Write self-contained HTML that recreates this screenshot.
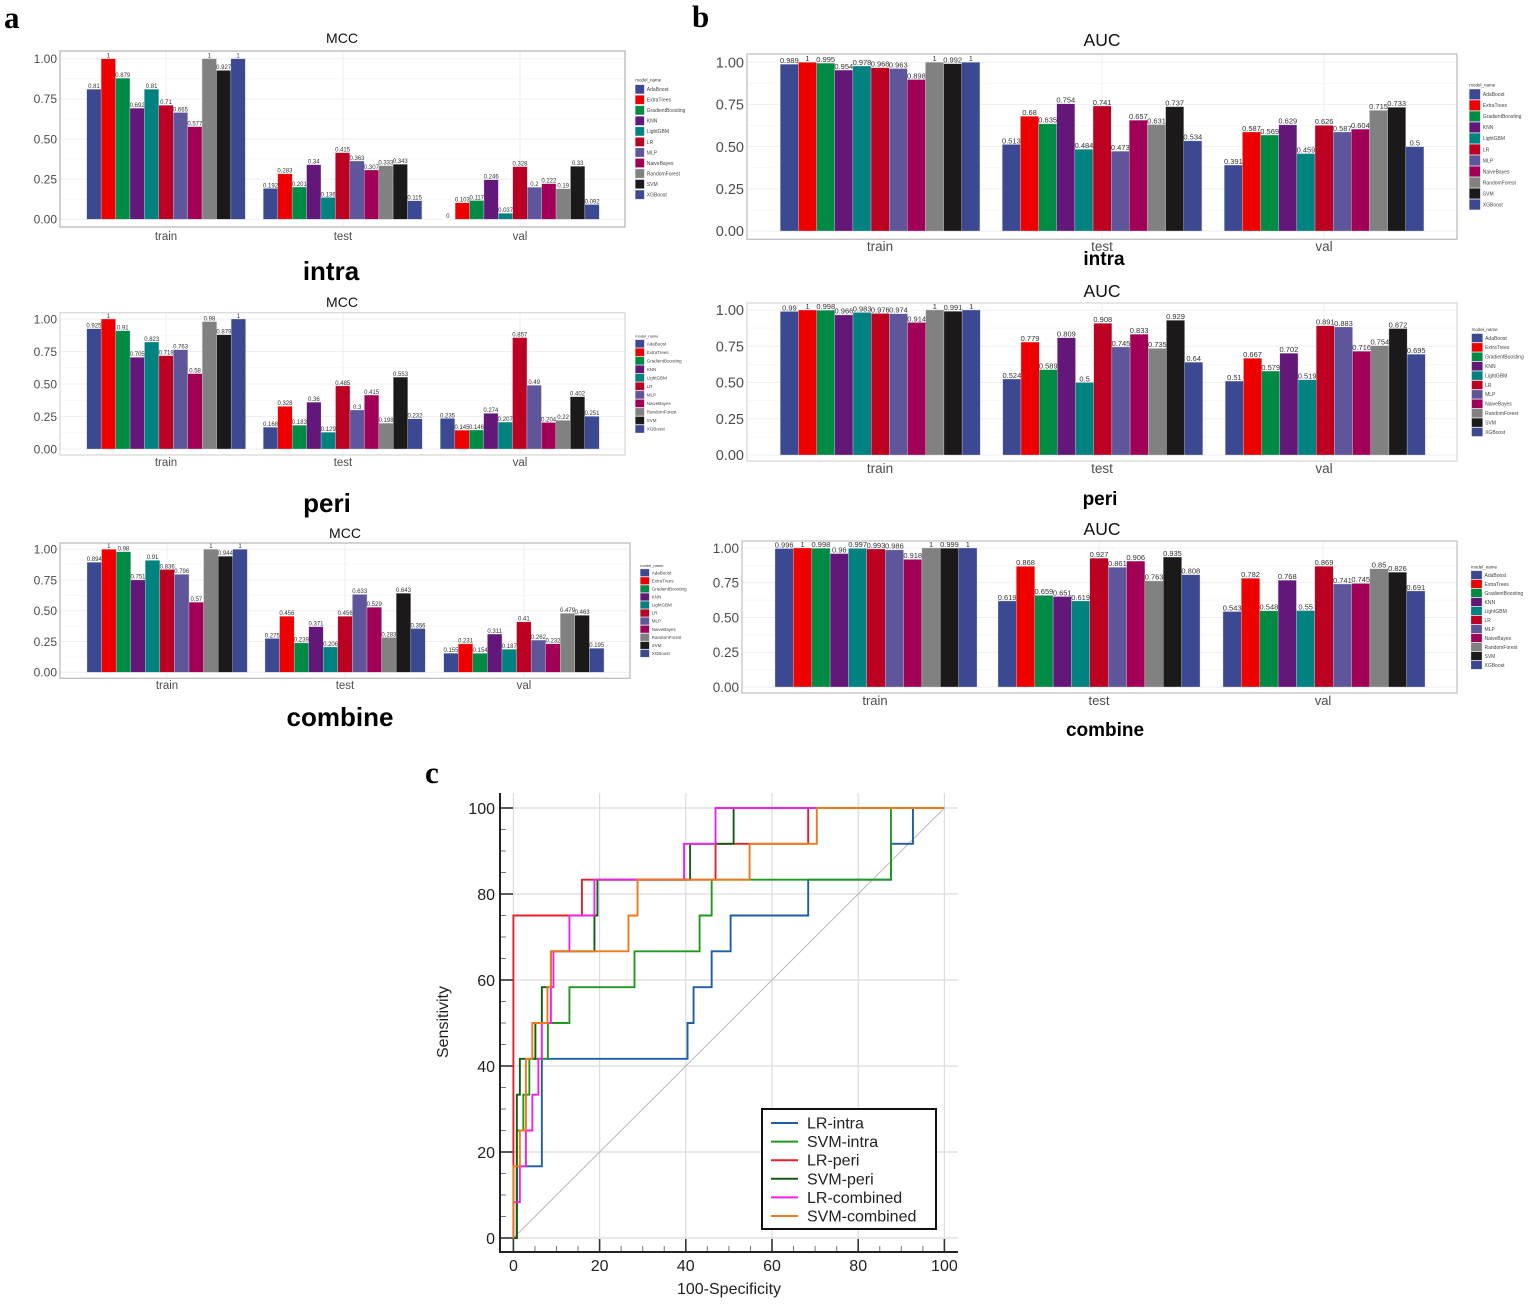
<!DOCTYPE html>
<html lang="en">
<head>
<meta charset="utf-8">
<title>Model performance comparison</title>
<style>
html,body{margin:0;padding:0;background:#fff;}
body{width:1535px;height:1304px;overflow:hidden;position:relative;}
svg{position:absolute;left:0;top:0;font-family:"Liberation Sans",sans-serif;}
.panel-letter{font-family:"Liberation Serif",serif;font-weight:bold;font-size:31px;fill:#000;}
.caption{font-family:"Liberation Sans",sans-serif;font-weight:bold;fill:#000;text-anchor:middle;}
#bars-root{filter:blur(0.35px);}
</style>
</head>
<body>
<svg id="figure" xmlns="http://www.w3.org/2000/svg" width="1535" height="1304" viewBox="0 0 1535 1304">
  <text class="panel-letter" x="4" y="28">a</text>
  <text class="panel-letter" x="692" y="27">b</text>
  <text class="panel-letter" x="425" y="783">c</text>
  <text class="caption" x="331" y="280" font-size="26">intra</text>
  <text class="caption" x="327" y="512" font-size="26">peri</text>
  <text class="caption" x="340" y="726" font-size="26">combine</text>
  <text class="caption" x="1104" y="265" font-size="19">intra</text>
  <text class="caption" x="1100" y="505" font-size="19">peri</text>
  <text class="caption" x="1105" y="736" font-size="19">combine</text>
  <g id="bars-root"></g>
  <g id="roc-root"></g>
</svg>
<script>
/* ---------- bar chart data ---------- */
const models = ["AdaBoost","ExtraTrees","GradientBoosting","KNN","LightGBM","LR","MLP","NaiveBayes","RandomForest","SVM","XGBoost"];
const splits = ["train","test","val"];
const yTicks = [0,0.25,0.5,0.75,1];
const yTickLabels = ["0.00","0.25","0.50","0.75","1.00"];

const mccIntraTrain = [0.81,1,0.879,0.692,0.81,0.71,0.665,0.577,1,0.927,1];
const mccIntraTest  = [0.192,0.283,0.201,0.34,0.136,0.415,0.363,0.307,0.333,0.343,0.115];
const mccIntraVal   = [0,0.103,0.117,0.246,0.037,0.328,0.2,0.222,0.19,0.33,0.092];

const mccPeriTrain = [0.925,1,0.91,0.705,0.823,0.718,0.763,0.58,0.98,0.879,1];
const mccPeriTest  = [0.168,0.328,0.183,0.36,0.129,0.485,0.3,0.415,0.198,0.553,0.232];
const mccPeriVal   = [0.235,0.145,0.146,0.274,0.207,0.857,0.49,0.204,0.22,0.402,0.251];

const mccCombineTrain = [0.894,1,0.98,0.751,0.91,0.836,0.796,0.57,1,0.944,1];
const mccCombineTest  = [0.275,0.456,0.239,0.371,0.206,0.456,0.633,0.529,0.283,0.643,0.356];
const mccCombineVal   = [0.155,0.231,0.154,0.311,0.187,0.41,0.262,0.232,0.479,0.463,0.195];

const aucIntraTrain = [0.989,1,0.995,0.954,0.978,0.968,0.963,0.898,1,0.992,1];
const aucIntraTest  = [0.513,0.68,0.635,0.754,0.484,0.741,0.473,0.657,0.631,0.737,0.534];
const aucIntraVal   = [0.391,0.587,0.569,0.629,0.459,0.626,0.587,0.604,0.715,0.733,0.5];

const aucPeriTrain = [0.99,1,0.998,0.966,0.983,0.976,0.974,0.914,1,0.991,1];
const aucPeriTest  = [0.524,0.779,0.589,0.809,0.5,0.908,0.745,0.833,0.735,0.929,0.64];
const aucPeriVal   = [0.51,0.667,0.579,0.702,0.519,0.891,0.883,0.716,0.754,0.872,0.695];

const aucCombineTrain = [0.996,1,0.998,0.96,0.997,0.993,0.986,0.918,1,0.999,1];
const aucCombineTest  = [0.619,0.868,0.659,0.651,0.619,0.927,0.861,0.906,0.763,0.935,0.808];
const aucCombineVal   = [0.543,0.782,0.548,0.768,0.55,0.869,0.741,0.745,0.85,0.826,0.691];

/* ---------- ROC data (100-specificity at which each step rises, sensitivity after the step) ---------- */
const rocXTicks = [0,20,40,60,80,100];
const rocYTicks = [0,20,40,60,80,100];
const lrIntraFpr  = [0.8,6.6,40.4,41.8,46,50.4,68.4,87.6,92.7];
const lrIntraSens = [16.67,41.67,50,58.33,66.67,75,83.33,91.67,100];
const svmIntraFpr  = [0.8,2.3,3.7,8,13,28.1,43.2,46,87.6];
const svmIntraSens = [25,33.33,41.67,50,58.33,66.67,75,83.33,100];
const lrPeriFpr  = [0,15.9,46.9,68.4];
const lrPeriSens = [75,83.33,91.67,100];
const svmPeriFpr  = [0.8,1.5,5.1,6.6,8.7,18.8,19.5,41,51.1];
const svmPeriSens = [33.33,41.67,50,58.33,66.67,75,83.33,91.67,100];
const lrCombinedFpr  = [0,1.5,2.9,4.4,5.8,6.6,8.7,9.3,13,18.8,39.6,46.9];
const lrCombinedSens = [8.33,16.67,25,33.33,41.67,50,58.33,66.67,75,83.33,91.67,100];
const svmCombinedFpr  = [0,1.5,2.9,4.4,7.9,8.7,26.7,28.8,54.8,70.4];
const svmCombinedSens = [16.67,25,41.67,50,58.33,66.67,75,83.33,91.67,100];

/* ---------- styling and layout ---------- */
const modelColors = ["#3b4992","#ee0000","#008b45","#631879","#008280","#bb0021","#5f559b","#a20056","#808180","#1b1919","#3b4992"];
const NS = "http://www.w3.org/2000/svg";

function node(parent, tag, attrs, text) {
  const el = document.createElementNS(NS, tag);
  for (const k in attrs) el.setAttribute(k, attrs[k]);
  if (text !== undefined) el.textContent = text;
  parent.appendChild(el);
  return el;
}

const barPanels = [
  {id:"mcc-intra", title:"MCC", titleX:342, titleY:43, titleSize:14, frame:[60,51,625,227], y1:58.7, y0:219.3,
   groupLeft:[86.7,263.3,440.7], groupWidth:158.6, groupCenter:[166,343,520], data:[mccIntraTrain,mccIntraTest,mccIntraVal],
   tickSize:12, splitSize:11.5, splitY:240, valueSize:6, frameColor:"#bdbdbd",
   legendX:635.3, legendSw:9, legendTop:89.3, legendStep:10.53, legendFont:5},
  {id:"mcc-peri", title:"MCC", titleX:342, titleY:307, titleSize:14, frame:[60,312.7,625,455], y1:319, y0:449,
   groupLeft:[86.7,263.3,440.3], groupWidth:158.9, groupCenter:[166,343,520], data:[mccPeriTrain,mccPeriTest,mccPeriVal],
   tickSize:12, splitSize:11.5, splitY:466, valueSize:6, frameColor:"#dcdcdc",
   legendX:635.3, legendSw:9, legendTop:343.7, legendStep:8.53, legendFont:4.5},
  {id:"mcc-combine", title:"MCC", titleX:345, titleY:538, titleSize:14, frame:[60,543,630,678.3], y1:549.3, y0:672.3,
   groupLeft:[87,265,443.7], groupWidth:160.3, groupCenter:[167,345,524], data:[mccCombineTrain,mccCombineTest,mccCombineVal],
   tickSize:12, splitSize:11.5, splitY:689, valueSize:6, frameColor:"#c0c0c0",
   legendX:640.3, legendSw:9, legendTop:572.7, legendStep:8.07, legendFont:4.5},
  {id:"auc-intra", title:"AUC", titleX:1102, titleY:46, titleSize:17.5, frame:[747,54,1457,239.3], y1:62.3, y0:231,
   groupLeft:[780.3,1002.3,1224.3], groupWidth:199.6, groupCenter:[880,1102,1324], data:[aucIntraTrain,aucIntraTest,aucIntraVal],
   tickSize:14.5, splitSize:13.5, splitY:251, valueSize:7.5, frameColor:"#c4c4c4",
   legendX:1469.3, legendSw:11, legendTop:94.3, legendStep:11.03, legendFont:5},
  {id:"auc-peri", title:"AUC", titleX:1102, titleY:297, titleSize:17.5, frame:[747,303,1457,461], y1:310, y0:455,
   groupLeft:[780.3,1002.8,1225.3], groupWidth:200, groupCenter:[880,1102,1324], data:[aucPeriTrain,aucPeriTest,aucPeriVal],
   tickSize:14.5, splitSize:13.5, splitY:473, valueSize:7.5, frameColor:"#dcdcdc",
   legendX:1471.6, legendSw:11, legendTop:338, legendStep:9.4, legendFont:5},
  {id:"auc-combine", title:"AUC", titleX:1102, titleY:535, titleSize:17.5, frame:[742,541,1457,693], y1:548, y0:687,
   groupLeft:[775,998,1223], groupWidth:202, groupCenter:[875,1099,1323], data:[aucCombineTrain,aucCombineTest,aucCombineVal],
   tickSize:13.5, splitSize:13, splitY:705, valueSize:7.5, frameColor:"#c8c8c8",
   legendX:1471, legendSw:11, legendTop:575, legendStep:9, legendFont:5}
];

function drawBarPanel(p) {
  const root = document.getElementById("bars-root");
  const g = node(root, "g", {});
  
  

  const yScale = v => p.y0 + (p.y1 - p.y0) * v;
  const xScale = (groupIdx, modelIdx) => p.groupLeft[groupIdx] + p.groupWidth * modelIdx / models.length;
  const [fl, ft, fr, fb] = p.frame;

  const title = node(g, "text", {x:p.titleX, y:p.titleY, "text-anchor":"middle", "font-size":p.titleSize, fill:"#111"}, p.title);
  
  

  for (let i = 0; i < yTicks.length; i++) {
    const gy = yScale(yTicks[i]);
    const grid = node(g, "line", {x1:fl, x2:fr, y1:gy, y2:gy, stroke:"#efefef", "stroke-width":1});
    
    
    if (i < yTicks.length - 1) {
      const my = yScale((yTicks[i] + yTicks[i + 1]) / 2);
      const minor = node(g, "line", {x1:fl, x2:fr, y1:my, y2:my, stroke:"#f5f5f5", "stroke-width":0.7});
      
      
    }
    const tick = node(g, "text", {x:fl - 3, y:gy + p.tickSize * 0.36, "text-anchor":"end", "font-size":p.tickSize, fill:"#4d4d4d"}, yTickLabels[i]);
    
    
  }

  splits.forEach((s, si) => {
    const cx = p.groupCenter[si];
    const vg = node(g, "line", {x1:cx, x2:cx, y1:ft, y2:fb, stroke:"#efefef", "stroke-width":1});
    
    
    const lab = node(g, "text", {x:cx, y:p.splitY, "text-anchor":"middle", "font-size":p.splitSize, fill:"#4d4d4d"}, s);
    
    
  });

  const frame = node(g, "rect", {x:fl, y:ft, width:fr - fl, height:fb - ft, fill:"none", stroke:p.frameColor, "stroke-width":1.4});
  
  

  p.data.forEach((series, si) => {
    series.forEach((v, mi) => {
      const bx = xScale(si, mi);
      const bw = p.groupWidth / models.length;
      const top = yScale(v);
      if (v > 0) {
        const bar = node(g, "rect", {x:bx, y:top, width:bw, height:p.y0 - top, fill:modelColors[mi], stroke:"#d8d8e4", "stroke-width":0.35});
        
        
      }
      const label = node(g, "text", {x:bx + bw / 2, y:top - 1.2, "text-anchor":"middle", "font-size":p.valueSize, fill:"#333"}, String(v));
      
      
    });
  });

  const legend = node(g, "g", {});
  
  
  const lt = node(legend, "text", {x:p.legendX, y:p.legendTop - p.legendStep * 0.72, "font-size":p.legendFont - 0.5, fill:"#333"}, "model_name");
  
  
  models.forEach((m, i) => {
    const cy = p.legendTop + p.legendStep * i;
    const sh = Math.min(p.legendSw, p.legendStep - 0.6);
    const sw = node(legend, "rect", {x:p.legendX, y:cy - sh / 2, width:p.legendSw, height:sh, fill:modelColors[i], stroke:"#d8d8e4", "stroke-width":0.3});
    
    
    const tx = node(legend, "text", {x:p.legendX + p.legendSw + 2.5, y:cy + p.legendFont * 0.36, "font-size":p.legendFont, fill:"#444"}, m);
    
    
  });
}
barPanels.forEach(drawBarPanel);

/* ---------- ROC chart ---------- */
const rocX = v => 513.4 + 4.31 * v;
const rocY = v => 1238 - 4.3 * v;
const rocSeries = [
  {name:"LR-intra", fpr:lrIntraFpr, sens:lrIntraSens, color:"#1d5fa6"},
  {name:"SVM-intra", fpr:svmIntraFpr, sens:svmIntraSens, color:"#1f9a1f"},
  {name:"LR-peri", fpr:lrPeriFpr, sens:lrPeriSens, color:"#e5202c"},
  {name:"SVM-peri", fpr:svmPeriFpr, sens:svmPeriSens, color:"#0f5f12"},
  {name:"LR-combined", fpr:lrCombinedFpr, sens:lrCombinedSens, color:"#ee22ee"},
  {name:"SVM-combined", fpr:svmCombinedFpr, sens:svmCombinedSens, color:"#ee7a1c"}
];

function drawRoc() {
  const g = document.getElementById("roc-root");
  const axisX = 500, axisY = 1252, rightEdge = 958, topEdge = 793;

  rocXTicks.forEach(t => {
    const gl = node(g, "line", {x1:rocX(t), x2:rocX(t), y1:topEdge, y2:axisY, stroke:"#dcdcdc", "stroke-width":1.2});
    
    
    const lab = node(g, "text", {x:rocX(t), y:1271, "text-anchor":"middle", "font-size":16, fill:"#222"}, String(t));
    
    
    const tk = node(g, "line", {x1:rocX(t), x2:rocX(t), y1:axisY, y2:axisY - 13, stroke:"#333", "stroke-width":1.6});
    
    
  });
  rocYTicks.forEach(t => {
    const gl = node(g, "line", {x1:axisX, x2:rightEdge, y1:rocY(t), y2:rocY(t), stroke:"#dcdcdc", "stroke-width":1.2});
    
    
    const lab = node(g, "text", {x:495, y:rocY(t) + 6, "text-anchor":"end", "font-size":16, fill:"#222"}, String(t));
    
    
    const tk = node(g, "line", {x1:axisX, x2:axisX + 13, y1:rocY(t), y2:rocY(t), stroke:"#333", "stroke-width":1.6});
    
    
  });
  for (let t = 0; t <= 100; t += 5) {
    if (t % 20 === 0) continue;
    const mx = node(g, "line", {x1:rocX(t), x2:rocX(t), y1:axisY, y2:axisY - 6, stroke:"#777", "stroke-width":1});
    
    
    const my = node(g, "line", {x1:axisX, x2:axisX + 6, y1:rocY(t), y2:rocY(t), stroke:"#777", "stroke-width":1});
    
    
  }

  const yAxis = node(g, "line", {x1:axisX, x2:axisX, y1:topEdge, y2:axisY + 1, stroke:"#222", "stroke-width":2});
  
  
  const xAxis = node(g, "line", {x1:axisX, x2:rightEdge, y1:axisY, y2:axisY, stroke:"#222", "stroke-width":2});
  
  

  const diag = node(g, "line", {x1:rocX(0), y1:rocY(0), x2:rocX(100), y2:rocY(100), stroke:"#c4b4b4", "stroke-width":1});
  
  

  rocSeries.forEach(s => {
    let d = "M" + rocX(0) + " " + rocY(0);
    s.fpr.forEach((f, i) => {
      d += "L" + rocX(f) + " " + rocY(i === 0 ? 0 : s.sens[i - 1]);
      d += "L" + rocX(f) + " " + rocY(s.sens[i]);
    });
    d += "L" + rocX(100) + " " + rocY(100);
    const path = node(g, "path", {d:d, fill:"none", stroke:s.color, "stroke-width":1.9, "stroke-linejoin":"miter"});
    
    
  });

  const ty = node(g, "text", {transform:"translate(448 1022) rotate(-90)", "text-anchor":"middle", "font-size":16, fill:"#222"}, "Sensitivity");
  
  
  const tx = node(g, "text", {x:729, y:1294, "text-anchor":"middle", "font-size":16, fill:"#222"}, "100-Specificity");
  
  

  const lg = node(g, "g", {});
  
  
  const box = node(lg, "rect", {x:762, y:1109, width:174, height:120, fill:"#fff", stroke:"#111", "stroke-width":2});
  
  
  rocSeries.forEach((s, i) => {
    const ly = 1123 + 18.6 * i;
    const sample = node(lg, "line", {x1:771, x2:798, y1:ly, y2:ly, stroke:s.color, "stroke-width":2});
    
    
    const label = node(lg, "text", {x:807, y:ly + 5.5, "font-size":16, fill:"#222"}, s.name);
    
    
  });
}
drawRoc();
</script>
</body>
</html>
